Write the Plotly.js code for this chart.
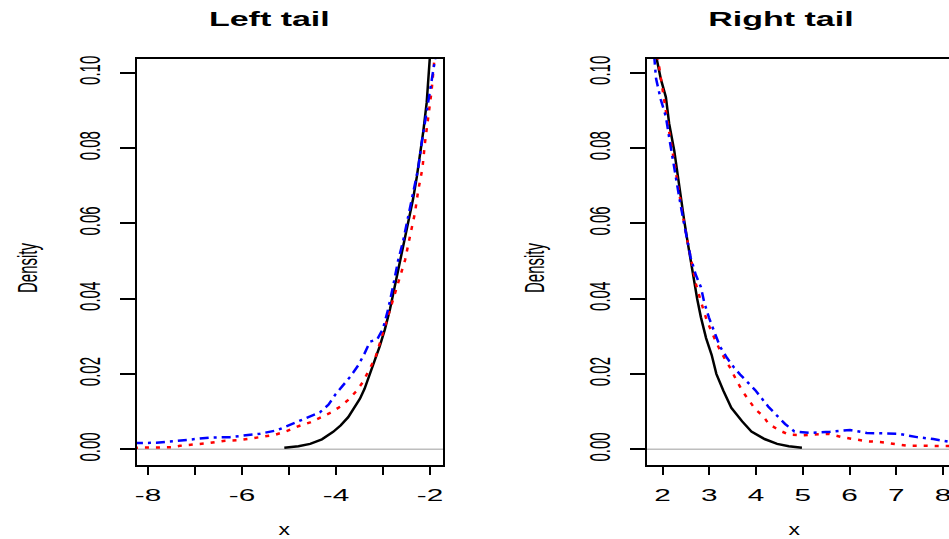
<!DOCTYPE html>
<html>
<head>
<meta charset="utf-8">
<script src="https://cdn.plot.ly/plotly-3.0.1.min.js"></script>
<style>html,body{margin:0;padding:0;background:#fff;}#chart{width:949px;height:539px;}</style>
</head>
<body>
<div id="chart"></div>
<script>
// ---- Left tail data ----
const leftBlackX = [-5.10,-4.80,-4.55,-4.30,-4.06,-3.90,-3.74,-3.60,-3.49,-3.39,-3.28,-3.17,-3.07,-2.96,-2.85,-2.75,-2.64,-2.53,-2.45,-2.36,-2.28,-2.21,-2.14,-2.07,-2.03,-2.00];
const leftBlackY = [0.0004,0.0008,0.0014,0.0026,0.0046,0.0063,0.0085,0.0111,0.0134,0.0161,0.0198,0.0235,0.0273,0.0318,0.0372,0.0432,0.0497,0.0555,0.0608,0.0664,0.0723,0.0782,0.0846,0.0920,0.0985,0.1045];

const leftRedX = [-8.30,-7.84,-7.50,-7.32,-7.04,-6.72,-6.40,-6.11,-5.83,-5.55,-5.30,-5.05,-4.80,-4.55,-4.34,-4.10,-3.91,-3.74,-3.56,-3.42,-3.30,-3.17,-3.07,-2.95,-2.80,-2.64,-2.53,-2.43,-2.32,-2.25,-2.16,-2.11,-2.04,-1.97,-1.93,-1.90];
const leftRedY = [0.0004,0.0005,0.0005,0.0009,0.0012,0.0016,0.0022,0.0024,0.0028,0.0034,0.0038,0.0048,0.0061,0.0071,0.0084,0.0098,0.0113,0.0131,0.0155,0.0180,0.0210,0.0240,0.0280,0.0330,0.0388,0.0454,0.0502,0.0563,0.0627,0.0687,0.0746,0.0810,0.0874,0.0947,0.1000,0.1045];

const leftBlueX = [-8.30,-7.82,-7.45,-7.04,-6.68,-6.26,-5.94,-5.62,-5.26,-4.95,-4.62,-4.34,-4.16,-4.02,-3.86,-3.70,-3.53,-3.40,-3.28,-3.12,-3.00,-2.89,-2.78,-2.68,-2.57,-2.46,-2.36,-2.25,-2.18,-2.11,-2.04,-1.96,-1.88];
const leftBlueY = [0.0016,0.0017,0.0021,0.0026,0.0031,0.0032,0.0036,0.0041,0.0050,0.0066,0.0082,0.0098,0.0118,0.0144,0.0168,0.0192,0.0222,0.0252,0.0285,0.0292,0.0320,0.0372,0.0436,0.0500,0.0554,0.0618,0.0673,0.0746,0.0810,0.0865,0.0929,0.0984,0.1045];

// ---- Right tail data ----
const rightBlackX = [1.86,1.96,2.07,2.14,2.25,2.32,2.39,2.46,2.53,2.60,2.67,2.74,2.82,2.93,3.05,3.15,3.30,3.47,3.70,3.90,4.18,4.45,4.70,4.98];
const rightBlackY = [0.1045,0.0984,0.0935,0.0865,0.0792,0.0728,0.0664,0.0609,0.0554,0.0500,0.0445,0.0399,0.0350,0.0295,0.0250,0.0200,0.0155,0.0110,0.0074,0.0047,0.0027,0.0014,0.0008,0.0004];

const rightRedX = [1.89,1.96,2.04,2.11,2.21,2.28,2.35,2.46,2.53,2.64,2.71,2.82,2.95,3.09,3.20,3.33,3.45,3.59,3.72,3.87,3.98,4.16,4.26,4.48,4.69,4.98,5.30,5.55,5.83,6.12,6.37,6.65,6.97,7.26,7.54,7.83,8.10,8.30];
const rightRedY = [0.1045,0.0984,0.0920,0.0865,0.0792,0.0737,0.0682,0.0600,0.0554,0.0490,0.0440,0.0392,0.0340,0.0300,0.0270,0.0240,0.0215,0.0180,0.0152,0.0126,0.0106,0.0087,0.0068,0.0051,0.0039,0.0037,0.0040,0.0041,0.0032,0.0027,0.0021,0.0019,0.0014,0.0009,0.0009,0.0009,0.0008,0.0008];

const rightBlueX = [1.82,1.86,1.96,2.07,2.14,2.21,2.28,2.35,2.43,2.53,2.60,2.71,2.82,2.89,2.99,3.13,3.23,3.38,3.52,3.66,3.80,3.98,4.12,4.26,4.44,4.62,4.82,5.16,5.58,6.01,6.37,6.79,7.04,7.44,7.79,8.11,8.30];
const rightBlueY = [0.1045,0.0984,0.0929,0.0883,0.0828,0.0774,0.0728,0.0673,0.0618,0.0554,0.0509,0.0463,0.0430,0.0390,0.0350,0.0304,0.0272,0.0242,0.0218,0.0198,0.0180,0.0157,0.0135,0.0113,0.0090,0.0067,0.0047,0.0043,0.0046,0.0051,0.0043,0.0042,0.0041,0.0032,0.0027,0.0020,0.0018];

// ---- Axis ticks / labels ----
const leftTickVals = [-8,-7,-6,-5,-4,-3,-2];
const leftTickText = ['-8','','-6','','-4','','-2'];
const rightTickVals = [2,3,4,5,6,7,8];
const rightTickText = ['2','3','4','5','6','7','8'];
const yTickVals = [0,0.02,0.04,0.06,0.08,0.10];
const yTickText = ['0.00','0.02','0.04','0.06','0.08','0.10'];
const panelTitles = ['Left tail','Right tail'];

const FONT = 'Liberation Sans, Arial, sans-serif';
const blackLine = {color:'#000000', width:2.5};
const redLine = {color:'#ff0000', width:2.5, dash:'4px,7px'};
const blueLine = {color:'#0000ff', width:2.5, dash:'9px,5px,3px,5px'};

const traces = [
  {x:leftBlackX, y:leftBlackY, xaxis:'x', yaxis:'y', mode:'lines', line:blackLine},
  {x:leftRedX, y:leftRedY, xaxis:'x', yaxis:'y', mode:'lines', line:redLine},
  {x:leftBlueX, y:leftBlueY, xaxis:'x', yaxis:'y', mode:'lines', line:blueLine},
  {x:rightBlackX, y:rightBlackY, xaxis:'x2', yaxis:'y2', mode:'lines', line:blackLine},
  {x:rightRedX, y:rightRedY, xaxis:'x2', yaxis:'y2', mode:'lines', line:redLine},
  {x:rightBlueX, y:rightBlueY, xaxis:'x2', yaxis:'y2', mode:'lines', line:blueLine}
];

const xCommon = {
  showline:true, linecolor:'#000', linewidth:2, mirror:true,
  ticks:'outside', ticklen:8, tickwidth:2, tickcolor:'#000',
  showgrid:false, zeroline:false, tickmode:'array',
  tickfont:{family:FONT, size:17, color:'#000'}, ticklabelstandoff:6
};
const yCommon = {
  showline:true, linecolor:'#000', linewidth:2,
  ticks:'outside', ticklen:15, tickwidth:2, tickcolor:'#000',
  showgrid:false, zeroline:false, tickmode:'array',
  tickvals:yTickVals, ticktext:yTickText, tickangle:-90,
  tickfont:{family:FONT, size:15, color:'#000'}, ticklabelstandoff:20,
  range:[-0.0042,0.1036]
};

const yDom = [0.1373, 0.8905];
const layout = {
  width:949, height:539,
  margin:{l:0,r:0,t:0,b:0},
  paper_bgcolor:'#fff', plot_bgcolor:'#fff',
  showlegend:false,
  xaxis:Object.assign({}, xCommon, {domain:[0.1444,0.4668], range:[-8.234,-1.723], tickvals:leftTickVals, ticktext:leftTickText, anchor:'y'}),
  yaxis:Object.assign({}, yCommon, {domain:yDom, anchor:'x', mirror:true}),
  xaxis2:Object.assign({}, xCommon, {domain:[0.6818,1.0], range:[1.667,8.126], tickvals:rightTickVals, ticktext:rightTickText, anchor:'y2'}),
  yaxis2:Object.assign({}, yCommon, {domain:yDom, anchor:'x2', mirror:false}),
  shapes:[
    {type:'line', xref:'x domain', x0:0, x1:1, yref:'y', y0:0, y1:0, line:{color:'#bebebe', width:1.5}, layer:'below'},
    {type:'line', xref:'x2 domain', x0:0, x1:1, yref:'y2', y0:0, y1:0, line:{color:'#bebebe', width:1.5}, layer:'below'}
  ],
  annotations:[
    {text:panelTitles[0], xref:'paper', yref:'paper', x:0.2845, y:0.9666, showarrow:false, xanchor:'center', yanchor:'middle', font:{family:FONT, size:21, weight:'bold', color:'#000'}},
    {text:panelTitles[1], xref:'paper', yref:'paper', x:0.823, y:0.9666, showarrow:false, xanchor:'center', yanchor:'middle', font:{family:FONT, size:21, weight:'bold', color:'#000'}},
    {text:'Density', xref:'paper', yref:'paper', x:0.0285, y:0.5028, textangle:-90, showarrow:false, xanchor:'center', yanchor:'middle', font:{family:FONT, size:15, color:'#000'}},
    {text:'Density', xref:'paper', yref:'paper', x:0.5627, y:0.5028, textangle:-90, showarrow:false, xanchor:'center', yanchor:'middle', font:{family:FONT, size:15, color:'#000'}},
    {text:'x', xref:'paper', yref:'paper', x:0.3003, y:0.0167, showarrow:false, xanchor:'center', yanchor:'middle', font:{family:FONT, size:17, color:'#000'}},
    {text:'x', xref:'paper', yref:'paper', x:0.8377, y:0.0167, showarrow:false, xanchor:'center', yanchor:'middle', font:{family:FONT, size:17, color:'#000'}}
  ]
};

// The reference image is horizontally stretched; widen the rendered text about its own centre.
function stretchText(el, s) {
  const svg = el.ownerSVGElement;
  if (!svg || !el.parentNode.getCTM) return;
  const r = el.getBoundingClientRect(), sr = svg.getBoundingClientRect();
  if (!r.width) return;
  const cx = r.left + r.width / 2 - sr.left;
  const P = el.parentNode.getCTM();
  const S = svg.createSVGMatrix().translate(cx, 0).scaleNonUniform(s, 1).translate(-cx, 0);
  const tl = el.transform.baseVal.consolidate();
  const T = tl ? tl.matrix : svg.createSVGMatrix();
  const M = P.inverse().multiply(S).multiply(P).multiply(T);
  el.setAttribute('transform', 'matrix(' + [M.a, M.b, M.c, M.d, M.e, M.f].join(',') + ')');
}

Plotly.newPlot('chart', traces, layout, {staticPlot:true, displayModeBar:false}).then(function (gd) {
  gd.querySelectorAll('.xtick text, .x2tick text').forEach(function (t) { stretchText(t, 1.75); });
  gd.querySelectorAll('.ytick text, .y2tick text').forEach(function (t) { stretchText(t, 2.0); });
  gd.querySelectorAll('.annotation-text').forEach(function (t) {
    const txt = t.textContent;
    if (txt === 'Density') stretchText(t, 1.9);
    else if (txt === 'x') stretchText(t, 1.35);
    else stretchText(t, 1.62);
  });
});
</script>
</body>
</html>
